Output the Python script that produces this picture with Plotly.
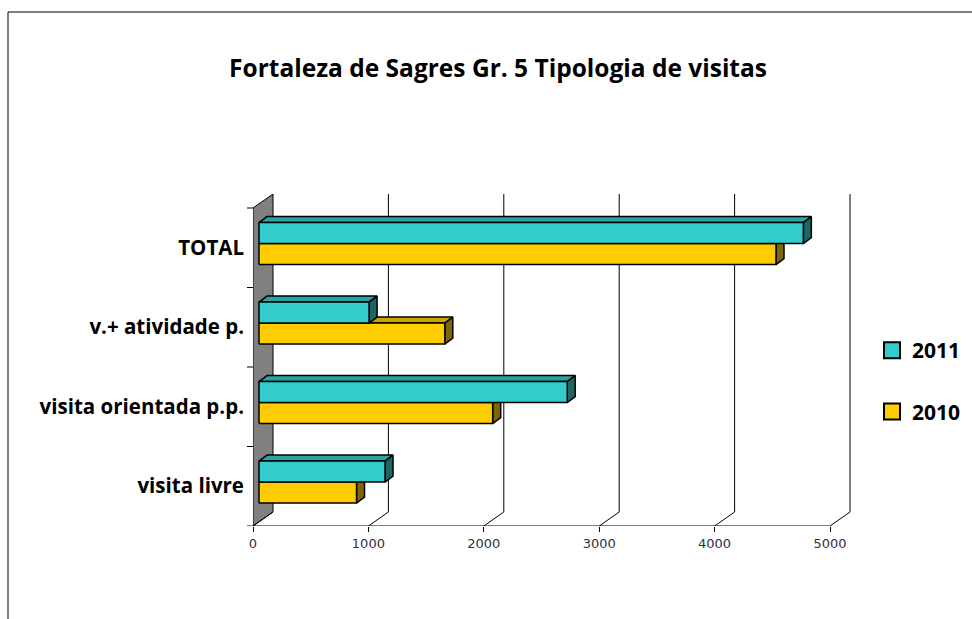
import plotly.graph_objects as go

# ---------------- data ----------------
categories = ["visita livre", "visita orientada p.p.", "v.+ atividade p.", "TOTAL"]
series_names = ["2011", "2010"]
values_2011 = [1092, 2671, 954, 4717]
values_2010 = [845, 2025, 1610, 4480]
x_ticks = [0, 1000, 2000, 3000, 4000, 5000]
title_text = "Fortaleza de Sagres Gr. 5 Tipologia de visitas"

# ---------------- geometry (pixel-based pseudo 3D) ----------------
W, H = 972, 619
L, R = 253, 972          # plot area in px (extends right so the legend sits inside)
T, B = 194, 526
PX = 5000 / 577          # data units per px along x
DX = 20 * PX             # depth offset (x) of back plane
DY = 14                  # depth offset (y) of back plane (y axis in px units)
BAND = 79.5
FRONT_H = BAND * len(categories)
Y_MAX = FRONT_H + DY
X_MAX = (R - L) * PX

BAR_H = 21
OFF_X, OFF_Y = 6 * PX, 4.2     # bar front plane offset
DEP_X, DEP_Y = 8 * PX, 6       # bar depth

colors = {
    "2011": dict(front="#33CCCC", top="#2AA3A3", side="#1D6666"),
    "2010": dict(front="#FFCC00", top="#CCA300", side="#806600"),
}


def faces(v, yb, yt):
    x0, x1 = OFF_X, OFF_X + v
    front = [(x0, yb), (x1, yb), (x1, yt), (x0, yt), (x0, yb)]
    top = [(x0, yt), (x1, yt), (x1 + DEP_X, yt + DEP_Y), (x0 + DEP_X, yt + DEP_Y), (x0, yt)]
    side = [(x1, yb), (x1 + DEP_X, yb + DEP_Y), (x1 + DEP_X, yt + DEP_Y), (x1, yt), (x1, yb)]
    return dict(front=front, top=top, side=side)


def collect(values, upper):
    out = {"front": ([], []), "top": ([], []), "side": ([], [])}
    for i, v in enumerate(values):
        yc = BAND * (i + 0.5) + OFF_Y
        if upper:
            yb, yt = yc, yc + BAR_H
        else:
            yb, yt = yc - BAR_H, yc
        f = faces(v, yb, yt)
        for k in out:
            for (px_, py_) in f[k]:
                out[k][0].append(px_)
                out[k][1].append(py_)
            out[k][0].append(None)
            out[k][1].append(None)
    return out


fig = go.Figure()

for name, vals, upper in [("2010", values_2010, False), ("2011", values_2011, True)]:
    polys = collect(vals, upper)
    for face in ["top", "side", "front"]:
        xs, ys = polys[face]
        fig.add_trace(go.Scatter(
            x=xs, y=ys, mode="lines", fill="toself",
            fillcolor=colors[name][face],
            line=dict(color="black", width=1.5),
            hoverinfo="skip", showlegend=False,
        ))

# legend entries (square markers, placed outside the visible range)
for gi, name in enumerate(series_names):
    fig.add_trace(go.Scatter(
        x=[0], y=[-100], mode="markers", name=name,
        marker=dict(symbol="square", size=16, color=colors[name]["front"],
                    line=dict(color="black", width=2)),
        legendgroup=f"g{gi}", hoverinfo="skip", cliponaxis=True,
    ))

shapes = []
# wall
shapes.append(dict(
    type="path", xref="x", yref="y", layer="below",
    path=f"M 0 0 L 0 {FRONT_H} L {DX} {Y_MAX} L {DX} {DY} Z",
    fillcolor="#808080", line=dict(color="black", width=1),
))
# floor slants and back gridlines
for t in x_ticks:
    shapes.append(dict(type="line", xref="x", yref="y", layer="below",
                       x0=t, y0=0, x1=t + DX, y1=DY, line=dict(color="black", width=1)))
    if t > 0:
        shapes.append(dict(type="line", xref="x", yref="y", layer="below",
                           x0=t + DX, y0=DY, x1=t + DX, y1=Y_MAX, line=dict(color="black", width=1)))
# front axis line
shapes.append(dict(type="line", xref="x", yref="y", layer="below",
                   x0=-6 * PX, x1=x_ticks[-1], y0=0, y1=0,
                   line=dict(color="black", width=1)))
# category separator ticks
for k in range(len(categories) + 1):
    shapes.append(dict(type="line", xref="paper", yref="y", layer="below",
                       x0=-6 / (R - L), x1=0, y0=k * BAND, y1=k * BAND,
                       line=dict(color="black", width=1)))
# outer frame
shapes.append(dict(type="rect", xref="paper", yref="paper", layer="below",
                   x0=(8 - L) / (R - L), x1=(990 - L) / (R - L),
                   y0=(B - 640) / (B - T), y1=(B - 12) / (B - T),
                   line=dict(color="black", width=1), fillcolor="rgba(0,0,0,0)"))

fig.update_layout(
    width=W, height=H,
    margin=dict(l=L, r=W - R, t=T, b=H - B, pad=0),
    paper_bgcolor="white", plot_bgcolor="rgba(0,0,0,0)",
    title=dict(text=title_text, x=498 / W, xanchor="center", xref="container",
               y=1 - 68 / H, yanchor="middle", yref="container",
               font=dict(family="Open Sans", size=24.5, color="black", weight="bold")),
    xaxis=dict(range=[0, X_MAX], tickvals=x_ticks, ticktext=[str(t) for t in x_ticks],
               showgrid=False, zeroline=False, showline=False,
               ticks="outside", ticklen=5, tickcolor="black",
               tickfont=dict(family="DejaVu Sans", size=13, color="#333333"),
               fixedrange=True),
    yaxis=dict(range=[0, Y_MAX],
               tickvals=[BAND * (i + 0.5) for i in range(len(categories))],
               ticktext=categories, ticks="", showgrid=False, zeroline=False,
               showline=False, ticklabelstandoff=8,
               tickfont=dict(family="Open Sans", size=20.5, color="black", weight="bold"),
               fixedrange=True),
    shapes=shapes,
    showlegend=True,
    legend=dict(x=(872 - L) / (R - L), xanchor="left", y=(B - 330) / (B - T), yanchor="top",
                traceorder="grouped", tracegroupgap=31, itemsizing="trace",
                font=dict(family="Noto Sans", size=21, color="black", weight="bold"),
                bgcolor="rgba(0,0,0,0)"),
)

fig.write_html("out.html", config={"displayModeBar": False},
               post_script="document.body.style.margin='0';document.body.style.padding='0';")
